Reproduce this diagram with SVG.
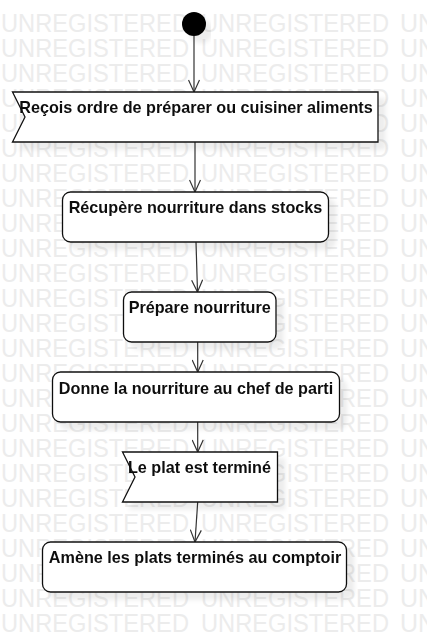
<svg xmlns="http://www.w3.org/2000/svg" width="427" height="642" viewBox="0 0 427 642">
<defs>
<style>
.wm{font-family:"Liberation Sans",Arial,sans-serif;font-size:25px;fill:#ececec}
.box{fill:#fff;stroke:#111;stroke-width:1.3}
.lbl{font-family:"Liberation Sans",Arial,sans-serif;font-size:16.2px;font-weight:bold;fill:#111;text-anchor:middle}
.con{stroke:#333;stroke-width:1.2;fill:none}
</style>
<filter id="sh" x="-10%" y="-20%" width="130%" height="160%">
<feGaussianBlur in="SourceAlpha" stdDeviation="2" result="b"/>
<feOffset in="b" dx="7" dy="7" result="o"/>
<feFlood flood-color="#000" flood-opacity="0.07"/>
<feComposite in2="o" operator="in" result="s"/>
<feMerge><feMergeNode in="s"/><feMergeNode in="SourceGraphic"/></feMerge>
</filter>
<marker id="arr" viewBox="-13 -6 14 12" refX="0" refY="0" markerWidth="14" markerHeight="12" markerUnits="userSpaceOnUse" orient="auto">
<path d="M-12,-5.5 L0,0 L-12,5.5" fill="none" stroke="#333" stroke-width="1.2"/>
</marker>
</defs>
<rect width="427" height="642" fill="#fff"/>
<g id="watermark">
<text class="wm" y="32"><tspan x="1" textLength="188" lengthAdjust="spacingAndGlyphs">UNREGISTERED</tspan><tspan x="201" textLength="188" lengthAdjust="spacingAndGlyphs">UNREGISTERED</tspan><tspan x="400">UN</tspan></text>
<text class="wm" y="57"><tspan x="1" textLength="188" lengthAdjust="spacingAndGlyphs">UNREGISTERED</tspan><tspan x="201" textLength="188" lengthAdjust="spacingAndGlyphs">UNREGISTERED</tspan><tspan x="400">UN</tspan></text>
<text class="wm" y="82"><tspan x="1" textLength="188" lengthAdjust="spacingAndGlyphs">UNREGISTERED</tspan><tspan x="201" textLength="188" lengthAdjust="spacingAndGlyphs">UNREGISTERED</tspan><tspan x="400">UN</tspan></text>
<text class="wm" y="107"><tspan x="1" textLength="188" lengthAdjust="spacingAndGlyphs">UNREGISTERED</tspan><tspan x="201" textLength="188" lengthAdjust="spacingAndGlyphs">UNREGISTERED</tspan><tspan x="400">UN</tspan></text>
<text class="wm" y="132"><tspan x="1" textLength="188" lengthAdjust="spacingAndGlyphs">UNREGISTERED</tspan><tspan x="201" textLength="188" lengthAdjust="spacingAndGlyphs">UNREGISTERED</tspan><tspan x="400">UN</tspan></text>
<text class="wm" y="157"><tspan x="1" textLength="188" lengthAdjust="spacingAndGlyphs">UNREGISTERED</tspan><tspan x="201" textLength="188" lengthAdjust="spacingAndGlyphs">UNREGISTERED</tspan><tspan x="400">UN</tspan></text>
<text class="wm" y="182"><tspan x="1" textLength="188" lengthAdjust="spacingAndGlyphs">UNREGISTERED</tspan><tspan x="201" textLength="188" lengthAdjust="spacingAndGlyphs">UNREGISTERED</tspan><tspan x="400">UN</tspan></text>
<text class="wm" y="207"><tspan x="1" textLength="188" lengthAdjust="spacingAndGlyphs">UNREGISTERED</tspan><tspan x="201" textLength="188" lengthAdjust="spacingAndGlyphs">UNREGISTERED</tspan><tspan x="400">UN</tspan></text>
<text class="wm" y="232"><tspan x="1" textLength="188" lengthAdjust="spacingAndGlyphs">UNREGISTERED</tspan><tspan x="201" textLength="188" lengthAdjust="spacingAndGlyphs">UNREGISTERED</tspan><tspan x="400">UN</tspan></text>
<text class="wm" y="257"><tspan x="1" textLength="188" lengthAdjust="spacingAndGlyphs">UNREGISTERED</tspan><tspan x="201" textLength="188" lengthAdjust="spacingAndGlyphs">UNREGISTERED</tspan><tspan x="400">UN</tspan></text>
<text class="wm" y="282"><tspan x="1" textLength="188" lengthAdjust="spacingAndGlyphs">UNREGISTERED</tspan><tspan x="201" textLength="188" lengthAdjust="spacingAndGlyphs">UNREGISTERED</tspan><tspan x="400">UN</tspan></text>
<text class="wm" y="307"><tspan x="1" textLength="188" lengthAdjust="spacingAndGlyphs">UNREGISTERED</tspan><tspan x="201" textLength="188" lengthAdjust="spacingAndGlyphs">UNREGISTERED</tspan><tspan x="400">UN</tspan></text>
<text class="wm" y="332"><tspan x="1" textLength="188" lengthAdjust="spacingAndGlyphs">UNREGISTERED</tspan><tspan x="201" textLength="188" lengthAdjust="spacingAndGlyphs">UNREGISTERED</tspan><tspan x="400">UN</tspan></text>
<text class="wm" y="357"><tspan x="1" textLength="188" lengthAdjust="spacingAndGlyphs">UNREGISTERED</tspan><tspan x="201" textLength="188" lengthAdjust="spacingAndGlyphs">UNREGISTERED</tspan><tspan x="400">UN</tspan></text>
<text class="wm" y="382"><tspan x="1" textLength="188" lengthAdjust="spacingAndGlyphs">UNREGISTERED</tspan><tspan x="201" textLength="188" lengthAdjust="spacingAndGlyphs">UNREGISTERED</tspan><tspan x="400">UN</tspan></text>
<text class="wm" y="407"><tspan x="1" textLength="188" lengthAdjust="spacingAndGlyphs">UNREGISTERED</tspan><tspan x="201" textLength="188" lengthAdjust="spacingAndGlyphs">UNREGISTERED</tspan><tspan x="400">UN</tspan></text>
<text class="wm" y="432"><tspan x="1" textLength="188" lengthAdjust="spacingAndGlyphs">UNREGISTERED</tspan><tspan x="201" textLength="188" lengthAdjust="spacingAndGlyphs">UNREGISTERED</tspan><tspan x="400">UN</tspan></text>
<text class="wm" y="457"><tspan x="1" textLength="188" lengthAdjust="spacingAndGlyphs">UNREGISTERED</tspan><tspan x="201" textLength="188" lengthAdjust="spacingAndGlyphs">UNREGISTERED</tspan><tspan x="400">UN</tspan></text>
<text class="wm" y="482"><tspan x="1" textLength="188" lengthAdjust="spacingAndGlyphs">UNREGISTERED</tspan><tspan x="201" textLength="188" lengthAdjust="spacingAndGlyphs">UNREGISTERED</tspan><tspan x="400">UN</tspan></text>
<text class="wm" y="507"><tspan x="1" textLength="188" lengthAdjust="spacingAndGlyphs">UNREGISTERED</tspan><tspan x="201" textLength="188" lengthAdjust="spacingAndGlyphs">UNREGISTERED</tspan><tspan x="400">UN</tspan></text>
<text class="wm" y="532"><tspan x="1" textLength="188" lengthAdjust="spacingAndGlyphs">UNREGISTERED</tspan><tspan x="201" textLength="188" lengthAdjust="spacingAndGlyphs">UNREGISTERED</tspan><tspan x="400">UN</tspan></text>
<text class="wm" y="557"><tspan x="1" textLength="188" lengthAdjust="spacingAndGlyphs">UNREGISTERED</tspan><tspan x="201" textLength="188" lengthAdjust="spacingAndGlyphs">UNREGISTERED</tspan><tspan x="400">UN</tspan></text>
<text class="wm" y="582"><tspan x="1" textLength="188" lengthAdjust="spacingAndGlyphs">UNREGISTERED</tspan><tspan x="201" textLength="188" lengthAdjust="spacingAndGlyphs">UNREGISTERED</tspan><tspan x="400">UN</tspan></text>
<text class="wm" y="607"><tspan x="1" textLength="188" lengthAdjust="spacingAndGlyphs">UNREGISTERED</tspan><tspan x="201" textLength="188" lengthAdjust="spacingAndGlyphs">UNREGISTERED</tspan><tspan x="400">UN</tspan></text>
<text class="wm" y="632"><tspan x="1" textLength="188" lengthAdjust="spacingAndGlyphs">UNREGISTERED</tspan><tspan x="201" textLength="188" lengthAdjust="spacingAndGlyphs">UNREGISTERED</tspan><tspan x="400">UN</tspan></text>
</g>
<g id="connectors">
<line class="con" x1="194" y1="36" x2="194" y2="92" marker-end="url(#arr)"/>
<line class="con" x1="195" y1="142" x2="195" y2="192" marker-end="url(#arr)"/>
<line class="con" x1="196" y1="242" x2="197.5" y2="292" marker-end="url(#arr)"/>
<line class="con" x1="197.7" y1="342" x2="197.7" y2="372" marker-end="url(#arr)"/>
<line class="con" x1="197.7" y1="422" x2="197.7" y2="452" marker-end="url(#arr)"/>
<line class="con" x1="197.7" y1="502" x2="195" y2="542" marker-end="url(#arr)"/>
</g>
<g id="start" filter="url(#sh)">
<circle cx="194" cy="24" r="12" fill="#000"/>
</g>
<g id="n1" filter="url(#sh)">
<polygon class="box" points="12.5,92 378,92 378,142 12.5,142 25,117"/>
<text class="lbl" x="196" y="113">Reçois ordre de préparer ou cuisiner aliments</text>
</g>
<g id="n2" filter="url(#sh)">
<rect class="box" x="62.5" y="192" width="266" height="50" rx="8"/>
<text class="lbl" x="195.5" y="213">Récupère nourriture dans stocks</text>
</g>
<g id="n3" filter="url(#sh)">
<rect class="box" x="123.5" y="292" width="152.5" height="50" rx="8"/>
<text class="lbl" x="199.7" y="313">Prépare nourriture</text>
</g>
<g id="n4" filter="url(#sh)">
<rect class="box" x="52.5" y="372" width="287" height="50" rx="8"/>
<text class="lbl" x="196" y="394">Donne la nourriture au chef de parti</text>
</g>
<g id="n5" filter="url(#sh)">
<polygon class="box" points="122.5,452 277.5,452 277.5,502 122.5,502 135,477"/>
<text class="lbl" x="199.5" y="473">Le plat est terminé</text>
</g>
<g id="n6" filter="url(#sh)">
<rect class="box" x="42.5" y="542" width="304" height="50" rx="8"/>
<text class="lbl" x="195" y="563">Amène les plats terminés au comptoir</text>
</g>
</svg>
